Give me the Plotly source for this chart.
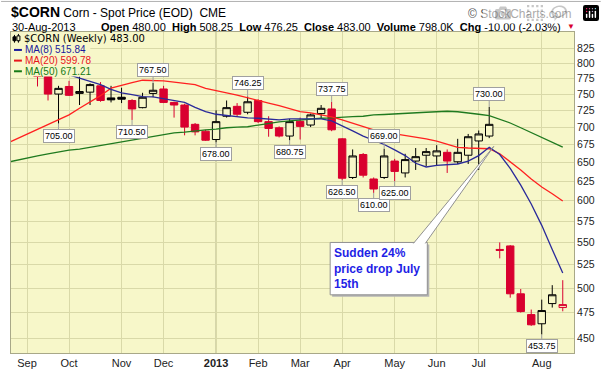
import math
import plotly.graph_objects as go

# ---------------- data ----------------
weeks = ["2012-08-20", "2012-08-27", "2012-09-03", "2012-09-10", "2012-09-17", "2012-09-24",
         "2012-10-01", "2012-10-08", "2012-10-15", "2012-10-22", "2012-10-29",
         "2012-11-05", "2012-11-12", "2012-11-19", "2012-11-26",
         "2012-12-03", "2012-12-10", "2012-12-17", "2012-12-24", "2012-12-31",
         "2013-01-07", "2013-01-14", "2013-01-21", "2013-01-28",
         "2013-02-04", "2013-02-11", "2013-02-18", "2013-02-25",
         "2013-03-04", "2013-03-11", "2013-03-18", "2013-03-25",
         "2013-04-01", "2013-04-08", "2013-04-15", "2013-04-22", "2013-04-29",
         "2013-05-06", "2013-05-13", "2013-05-20", "2013-05-27",
         "2013-06-03", "2013-06-10", "2013-06-17", "2013-06-24",
         "2013-07-01", "2013-07-08", "2013-07-15", "2013-07-22", "2013-07-29",
         "2013-08-05", "2013-08-12", "2013-08-19", "2013-08-26"]

opens = [808, 812, 800, 792, 778, 750, 762, 751, 753, 763, 744, 745, 740, 729, 751,
         758, 737, 733, 704, 694, 682, 716, 731, 722, 740, 708, 699, 687, 708.5, 703,
         720, 727, 683, 630, 661, 628, 630, 652, 636, 652, 660, 659, 664, 651, 660,
         680, 687, 542, 546, 494, 473, 464, 484, 480]
highs = [823, 818, 806, 800, 782, 763, 771, 778, 767, 769, 763, 760, 742, 752, 767.5,
         763, 738, 735, 706, 696, 725, 740, 736, 746.25, 742, 716, 701, 712, 714, 720,
         733, 737.75, 684, 668, 663, 630, 669, 655, 662, 670, 670, 674, 668, 683, 690,
         695, 730, 550, 547, 499, 478, 488, 503, 508.25]
lows = [795, 792, 780, 762, 740, 705, 747, 733, 733, 738, 737, 736, 710.5, 728, 745,
        736, 714, 688, 688, 680, 678, 714, 716, 719, 706, 686, 685, 680.75, 682, 700,
        712, 694, 626.5, 628, 630, 610, 628, 625, 630, 640, 645, 646, 636, 648, 648,
        640, 684, 532, 490, 475, 462, 453.75, 480, 476.25]
closes = [812, 802, 798, 778, 750, 759, 748, 754, 765, 740, 741, 742, 727, 745, 756,
          737, 733, 700, 693, 681, 708, 729, 719, 738, 708, 698, 687, 708, 701, 718,
          728, 696, 629, 659, 633, 615, 659, 638, 654, 658, 665, 666, 652, 664, 686,
          690, 704, 541, 494, 476, 463, 477, 493, 483]

ma8 = [812, 808, 804, 798, 791, 786, 781, 776, 771, 765, 757.5, 752, 749, 746, 745.5,
       743, 740, 737, 729.4, 723, 719, 717, 715.5, 713.5, 713, 711.5, 710.5, 712, 712, 712,
       712, 709, 702, 694.5, 687, 681, 675, 667.5, 659.5, 649, 644, 646, 647, 648, 652,
       659.5, 671, 661, 642, 620, 596, 570, 542, 515.84]
ma20 = [676, 682.8, 689.6, 696, 703, 710, 718, 728, 738, 747.5, 759.4, 764, 768, 772, 772,
        771, 769, 766.5, 765, 759, 756, 752, 748.5, 744, 740.5, 736, 732, 727, 723, 721,
        718, 715, 710.5, 705.5, 700.5, 696, 692.5, 690, 688, 686, 683, 679.6, 675, 671, 670,
        669.5, 669, 662, 651, 640, 628, 617.5, 609, 599.78]
ma50 = [650, 652.7, 655.3, 659, 662, 665, 667, 668.5, 671, 673.5, 676, 679, 681.6, 683.5, 687,
        689, 691.5, 692.5, 694.5, 696, 697, 699, 699.8, 700.5, 703, 705.5, 707.6, 709, 710.5, 712,
        713, 713.5, 714.8, 715.5, 716, 718, 718.6, 719.2, 720, 720.7, 722, 722.8, 723.5, 722.8, 721.3,
        719, 717, 712, 706, 699, 692, 685.5, 678.5, 671.21]

month_ticks = ["2012-09-03", "2012-10-01", "2012-11-05", "2012-12-03", "2013-01-07", "2013-02-04",
               "2013-03-04", "2013-04-01", "2013-05-06", "2013-06-03", "2013-07-01", "2013-08-12"]
month_labels = ["Sep", "Oct", "Nov", "Dec", "<b>2013</b>", "Feb", "Mar", "Apr", "May", "Jun", "Jul", "Aug"]
price_ticks = [450, 475, 500, 525, 550, 575, 600, 625, 650, 675, 700, 725, 750, 775, 800, 825]

# labelled extremes (week, which end of the bar)
label_weeks = ["2012-09-24", "2012-11-26", "2012-11-12", "2013-01-07", "2013-01-28", "2013-02-25",
               "2013-03-25", "2013-04-29", "2013-04-01", "2013-04-22", "2013-05-06", "2013-07-08",
               "2013-08-12"]
label_kinds = ["low", "high", "low", "low", "high", "low", "high", "high", "low", "low", "low", "high", "low"]

volume_text = "798.0K"

# ---------------- styling ----------------
BG = "#f7f7c9"
GRID = "#d9d9a8"
YEARGRID = "#a9a982"
FRAME = "#a8a888"
RED = "#d9002f"
SANS = "Liberation Sans, Arial, sans-serif"
VERD = "DejaVu Sans, Verdana, sans-serif"

PL, PR, PT, PB = 10, 578, 32, 363


def px(x):
    return (x - PL) / (PR - PL)


def py(y):
    return (PB - y) / (PB - PT)


fig = go.Figure()

# split bars by close vs previous close (black = up, red = down)
up_idx, dn_idx = [], []
for i in range(len(closes)):
    if i == 0 or closes[i] >= closes[i - 1]:
        up_idx.append(i)
    else:
        dn_idx.append(i)

for idx, col in ((up_idx, "#000000"), (dn_idx, RED)):
    fig.add_trace(go.Candlestick(
        x=[weeks[i] for i in idx],
        open=[opens[i] for i in idx], high=[highs[i] for i in idx],
        low=[lows[i] for i in idx], close=[closes[i] for i in idx],
        increasing=dict(line=dict(color=col, width=1), fillcolor=BG),
        decreasing=dict(line=dict(color=col, width=1), fillcolor=col),
        whiskerwidth=0, showlegend=False, hoverinfo="skip"))

for vals, col in ((ma50, "#1f7a1f"), (ma20, "#ff2020"), (ma8, "#2a2a9a")):
    fig.add_trace(go.Scatter(x=weeks, y=vals, mode="lines",
                             line=dict(color=col, width=1.3), showlegend=False, hoverinfo="skip"))

ann = []


def text(x, y, s, size, color="#000", family=SANS, xanchor="left"):
    ann.append(dict(xref="paper", yref="paper", x=px(x), y=py(y), text=s, showarrow=False,
                    xanchor=xanchor, yanchor="middle", font=dict(size=size, color=color, family=family)))


# header
text(8, 11.5, "<span style='font-size:14px'><b>$CORN</b></span> Corn - Spot Price (EOD) \u00a0CME", 12)
text(578, 13, "\u00a9 StockCharts.com", 12, "#555555", xanchor="right")
text(9, 26.5, "30-Aug-2013", 11)
chg = closes[-1] - closes[-2]
pct = chg / closes[-2] * 100
sp = " \u00a0"
hdr = (f"<b>Open</b> {opens[-1]:.2f}{sp}<b>High</b> {highs[-1]:.2f}{sp}<b>Low</b> {lows[-1]:.2f}{sp}"
       f"<b>Close</b> {closes[-1]:.2f}{sp}<b>Volume</b> {volume_text}{sp}<b>Chg</b> {chg:.2f} ({pct:.2f}%)")
text(567, 26.5, hdr, 11, xanchor="right")
text(569, 26.5, "\u25bc", 8, RED)

# legend (inside plot)
text(21, 38.8, f"$CORN (Weekly) {closes[-1]:.2f}", 10, "#000", VERD)
text(22, 50.5, f"MA(8) {ma8[-1]:.2f}", 10, "#1a1a9c")
text(22, 61.5, f"MA(20) {ma20[-1]:.2f}", 10, "#e8161c")
text(22, 72.5, f"MA(50) {ma50[-1]:.2f}", 10, "#157a15")

# price labels for extremes
for wk, kind in zip(label_weeks, label_kinds):
    i = weeks.index(wk)
    v = highs[i] if kind == "high" else lows[i]
    ann.append(dict(x=wk, y=math.log10(v), xref="x", yref="y", text=f"{v:.2f}",
                    showarrow=True, arrowhead=0, arrowwidth=1, arrowcolor="#a0a0a0",
                    ax=0, ay=-13 if kind == "high" else 12, standoff=0,
                    bgcolor="#ffffff", bordercolor="#a0a0a0", borderwidth=1, borderpad=1,
                    font=dict(size=9, color="#000", family=SANS)))

# callout text
ann.append(dict(xref="paper", yref="paper", x=px(334), y=py(276), xanchor="left", yanchor="middle",
                align="left", showarrow=False,
                text="<b>Sudden 24%<br>price drop July<br>15th</b>",
                font=dict(size=12, color="#1f1fe6", family=SANS)))

shapes = []
# year gridline
shapes.append(dict(type="line", xref="x", yref="paper", x0="2013-01-07", x1="2013-01-07", y0=0, y1=1,
                   line=dict(color=YEARGRID, width=1), layer="between"))
# legend masks
shapes.append(dict(type="rect", xref="paper", yref="paper", x0=px(10), x1=px(142), y0=py(44), y1=py(32),
                   fillcolor=BG, line=dict(width=0), layer="above"))
shapes.append(dict(type="rect", xref="paper", yref="paper", x0=px(10), x1=px(90), y0=py(78), y1=py(44),
                   fillcolor=BG, line=dict(width=0), layer="above"))
# legend swatches
for yy, col in ((50.5, "#1a1a9c"), (61.5, "#e8161c"), (72.5, "#157a15")):
    shapes.append(dict(type="line", xref="paper", yref="paper", x0=px(13), x1=px(21), y0=py(yy), y1=py(yy),
                       line=dict(color=col, width=2), layer="above"))
# small candle icon
shapes.append(dict(type="line", xref="paper", yref="paper", x0=px(13.5), x1=px(13.5), y0=py(43), y1=py(35),
                   line=dict(color="#000", width=1), layer="above"))
shapes.append(dict(type="rect", xref="paper", yref="paper", x0=px(12), x1=px(15), y0=py(41), y1=py(37),
                   fillcolor="#000", line=dict(color="#000", width=1), layer="above"))
shapes.append(dict(type="line", xref="paper", yref="paper", x0=px(17.5), x1=px(17.5), y0=py(43), y1=py(34),
                   line=dict(color="#000", width=1), layer="above"))
shapes.append(dict(type="rect", xref="paper", yref="paper", x0=px(16), x1=px(19), y0=py(41), y1=py(36),
                   fillcolor=BG, line=dict(color="#000", width=1), layer="above"))
# callout box with shadow and pointer
shapes.append(dict(type="rect", xref="paper", yref="paper", x0=px(334), x1=px(432), y0=py(305), y1=py(251),
                   fillcolor="#b4b4b4", line=dict(width=0), layer="above"))
shapes.append(dict(type="rect", xref="paper", yref="paper", x0=px(332), x1=px(430), y0=py(303), y1=py(249),
                   fillcolor="#ffffff", line=dict(color="#909090", width=1), layer="above"))
path = (f"M {px(416)},{py(250)} L {px(497)},{py(150)} L {px(428)},{py(250)}")
shapes.append(dict(type="path", xref="paper", yref="paper", path=path,
                   fillcolor="#ffffff", line=dict(color="#909090", width=1), layer="above"))
# top border of image
shapes.append(dict(type="line", xref="paper", yref="paper", x0=px(0), x1=px(605), y0=py(0.5), y1=py(0.5),
                   line=dict(color="#b0b0b0", width=1)))

fig.update_layout(
    width=605, height=379,
    margin=dict(l=PL, r=605 - PR, t=PT, b=379 - PB, pad=0),
    paper_bgcolor="#ffffff", plot_bgcolor=BG,
    boxgap=0.16, boxgroupgap=0.16,
    annotations=ann, shapes=shapes, showlegend=False,
    xaxis=dict(type="date", range=["2012-08-23 08:00", "2013-09-02 12:00"],
               tickvals=month_ticks, ticktext=month_labels, ticks="", ticklen=0,
               showgrid=True, gridcolor=GRID, gridwidth=1,
               showline=True, linecolor=FRAME, linewidth=1, mirror=True,
               tickfont=dict(size=11, color="#222", family=SANS),
               rangeslider=dict(visible=False), fixedrange=True),
    yaxis=dict(type="log", side="right",
               range=[math.log10(436.5), math.log10(853.9)],
               tickvals=price_ticks, ticktext=[str(v) for v in price_ticks], ticks="", ticklen=0,
               showgrid=True, gridcolor=GRID, gridwidth=1,
               showline=True, linecolor=FRAME, linewidth=1, mirror=True,
               tickfont=dict(size=10.5, color="#222", family=SANS), fixedrange=True),
)

fig.write_html("out.html",
               post_script="document.body.style.margin='0';document.body.style.overflow='hidden';")
